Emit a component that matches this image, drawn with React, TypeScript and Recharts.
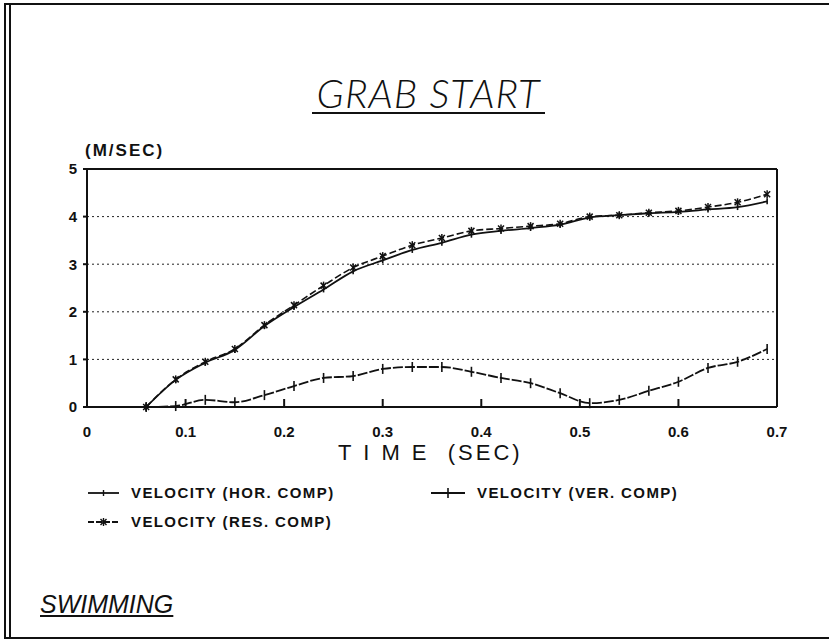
import React from "react";
import { LineChart, Line, XAxis, YAxis, CartesianGrid, ReferenceLine } from "recharts";

// sample times (sec)
const TIME = [0.06, 0.09, 0.12, 0.15, 0.18, 0.21, 0.24, 0.27, 0.3, 0.33, 0.36, 0.39, 0.42, 0.45, 0.48, 0.51, 0.54, 0.57, 0.6, 0.63, 0.66, 0.69];
// velocity, horizontal component (m/sec)
const HOR = [0, 0.57, 0.93, 1.2, 1.7, 2.1, 2.47, 2.85, 3.08, 3.3, 3.45, 3.62, 3.7, 3.76, 3.83, 3.98, 4.03, 4.07, 4.1, 4.15, 4.2, 4.32];
// velocity, vertical component
const VER = [0, 0.02, 0.15, 0.1, 0.25, 0.44, 0.61, 0.65, 0.8, 0.84, 0.84, 0.74, 0.61, 0.5, 0.29, 0.08, 0.15, 0.34, 0.53, 0.82, 0.95, 1.22];
// velocity, resultant
const RES = [0, 0.58, 0.95, 1.22, 1.72, 2.14, 2.55, 2.93, 3.17, 3.4, 3.55, 3.7, 3.75, 3.8, 3.85, 4.0, 4.03, 4.08, 4.12, 4.2, 4.3, 4.47];

const X_TICKS = [0, 0.1, 0.2, 0.3, 0.4, 0.5, 0.6, 0.7];
const Y_TICKS = [0, 1, 2, 3, 4, 5];

const data = TIME.map((t, i) => ({ t, hor: HOR[i], ver: VER[i], res: RES[i] }));

const INK = "#111";
const FONT = "'Liberation Sans', Arial, sans-serif";

const XTick = ({ x, y, payload }: any) => {
  const v = payload.value;
  return (
    <g>
      {v > 0 && v < 0.7 && <line x1={x} y1={y} x2={x} y2={y - 8} stroke={INK} strokeWidth={2} />}
      <text x={x} y={y + 30} textAnchor="middle" fill={INK} fontSize={15} fontWeight={700} fontFamily={FONT}>
        {v === 0 ? "0" : v.toFixed(1)}
      </text>
    </g>
  );
};

const TickDot = ({ cx, cy, h }: any) => {
  if (cx == null || cy == null) return null;
  return <line x1={cx} y1={cy - h} x2={cx} y2={cy + h} stroke={INK} strokeWidth={1.6} />;
};

const StarDot = ({ cx, cy }: any) => {
  if (cx == null || cy == null) return null;
  return (
    <g stroke={INK} strokeWidth={1.5}>
      <line x1={cx} y1={cy - 4} x2={cx} y2={cy + 4} />
      <line x1={cx - 3} y1={cy - 3} x2={cx + 3} y2={cy + 3} />
      <line x1={cx - 3} y1={cy + 3} x2={cx + 3} y2={cy - 3} />
    </g>
  );
};

const LegendItem = ({ kind, label, left, top, sample }: any) => (
  <div style={{ position: "absolute", left, top, display: "flex", alignItems: "center" }}>
    <svg width={sample} height={14}>
      <line x1={1} y1={7} x2={sample - 1} y2={7} stroke={INK} strokeWidth={1.8} strokeDasharray={kind === "res" ? "6 2" : undefined} />
      {kind === "ver" && <line x1={sample / 2} y1={2} x2={sample / 2} y2={12} stroke={INK} strokeWidth={1.6} />}
      {kind === "hor" && <line x1={sample / 2} y1={4} x2={sample / 2} y2={10} stroke={INK} strokeWidth={1.4} />}
      {kind === "res" && (
        <g stroke={INK} strokeWidth={1.4}>
          <line x1={sample / 2} y1={3} x2={sample / 2} y2={11} />
          <line x1={sample / 2 - 3} y1={4} x2={sample / 2 + 3} y2={10} />
          <line x1={sample / 2 - 3} y1={10} x2={sample / 2 + 3} y2={4} />
        </g>
      )}
    </svg>
    <span style={{ marginLeft: 11, fontSize: 15, fontWeight: 700, letterSpacing: 1.4, whiteSpace: "pre" }}>{label}</span>
  </div>
);

export default function App() {
  return (
    <div style={{ position: "absolute", left: 0, top: 0, width: 829, height: 642, background: "#fff", fontFamily: FONT, color: INK, overflow: "hidden" }}>
      {/* page frame */}
      <div style={{ position: "absolute", left: 4, top: 3, width: 2, height: 636, background: INK }} />
      <div style={{ position: "absolute", left: 9, top: 3, width: 2, height: 636, background: INK }} />
      <div style={{ position: "absolute", left: 4, top: 3, width: 825, height: 2, background: INK }} />
      <div style={{ position: "absolute", left: 4, top: 637, width: 825, height: 2, background: INK }} />

      <div style={{ position: "absolute", left: 312, top: 75, width: 233, textAlign: "center", borderBottom: `2px solid ${INK}`, fontFamily: "Lato, 'Liberation Sans', sans-serif", fontSize: 40, fontStyle: "italic", fontWeight: 300, lineHeight: "37px", letterSpacing: 1, whiteSpace: "pre" }}>
        GRAB START
      </div>

      <div style={{ position: "absolute", left: 85, top: 141, fontSize: 17, fontWeight: 700, letterSpacing: 2 }}>(M/SEC)</div>

      <LineChart width={829} height={642} data={data} margin={{ top: 169, right: 52, bottom: 205, left: 57 }}>
        <CartesianGrid vertical={false} stroke="#222" strokeDasharray="2 3" />
        <XAxis
          dataKey="t"
          type="number"
          domain={[0, 0.7]}
          ticks={X_TICKS}
          interval={0}
          height={30}
          tickSize={0}
          tickMargin={0}
          tickLine={false}
          axisLine={{ stroke: INK, strokeWidth: 2 }}
          tick={<XTick />}
        />
        <YAxis
          domain={[0, 5]}
          ticks={Y_TICKS}
          interval={0}
          width={30}
          tickSize={4}
          tickMargin={6}
          tickLine={{ stroke: INK, strokeWidth: 2 }}
          axisLine={{ stroke: INK, strokeWidth: 2 }}
          tick={{ fill: INK, fontSize: 15, fontWeight: 700, fontFamily: FONT }}
        />
        <ReferenceLine y={5} stroke={INK} strokeWidth={2} />
        <ReferenceLine x={0.7} stroke={INK} strokeWidth={2} />
        <Line dataKey="hor" type="monotone" stroke={INK} strokeWidth={1.8} dot={<TickDot h={3} />} isAnimationActive={false} />
        <Line dataKey="res" type="monotone" stroke={INK} strokeWidth={1.6} strokeDasharray="7 3" dot={<StarDot />} isAnimationActive={false} />
        <Line dataKey="ver" type="monotone" stroke={INK} strokeWidth={1.8} strokeDasharray="10 2" dot={<TickDot h={5} />} isAnimationActive={false} />
      </LineChart>

      <div style={{ position: "absolute", left: 338, top: 440, fontSize: 22, letterSpacing: 3, whiteSpace: "pre" }}>T I M E  (SEC)</div>

      <LegendItem kind="hor" label="VELOCITY (HOR. COMP)" left={87} top={484} sample={33} />
      <LegendItem kind="ver" label="VELOCITY (VER. COMP)" left={430} top={484} sample={36} />
      <LegendItem kind="res" label="VELOCITY (RES. COMP)" left={87} top={513} sample={33} />

      <div style={{ position: "absolute", left: 40, top: 590, fontSize: 25, fontStyle: "italic", textDecoration: "underline", textUnderlineOffset: 2 }}>SWIMMING</div>
    </div>
  );
}
